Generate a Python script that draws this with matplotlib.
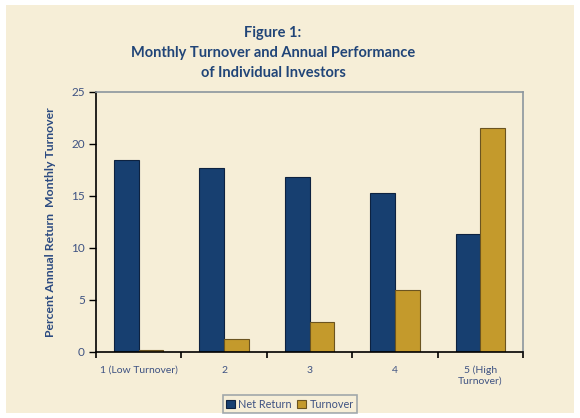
import matplotlib.pyplot as plt
import numpy as np
from matplotlib.patches import Rectangle

categories = ['1 (Low Turnover)', '2', '3', '4', '5 (High\nTurnover)']
net_return = [18.5, 17.7, 16.8, 15.3, 11.3]
turnover = [0.2, 1.25, 2.9, 6.0, 21.5]

navy = '#173f70'
gold = '#c49a2c'
beige = '#f6eed7'
text_blue = '#2b4a80'
tick_blue = '#3e5282'

plt.rcParams['font.family'] = ['Lato', 'DejaVu Sans']

fig = plt.figure(figsize=(5.8, 4.18), dpi=100, facecolor='white')
fig.patches.append(Rectangle((6 / 580, 5 / 418), 568 / 580, 408 / 418,
                             transform=fig.transFigure, facecolor=beige,
                             edgecolor='none', zorder=-10))

ax = fig.add_axes([96 / 580, 66 / 418, 427 / 580, 260 / 418])
ax.set_facecolor(beige)

x = np.arange(len(categories))
w = 0.29
ax.bar(x - w / 2, net_return, w, color=navy, edgecolor='#0d2240', linewidth=0.8, label='Net Return')
ax.bar(x + w / 2, turnover, w, color=gold, edgecolor='#6b5420', linewidth=0.8, label='Turnover')

ax.set_xlim(-0.5, len(categories) - 0.5)
ax.set_ylim(0, 25)
ax.set_yticks([0, 5, 10, 15, 20, 25])
ax.set_xticks(np.arange(len(categories) + 1) - 0.5)
ax.set_xticklabels([])
ax.set_xticks(x, minor=True)
ax.set_xticklabels(categories, minor=True)
ax.tick_params(axis='x', which='minor', length=0, pad=10, labelsize=7.5, labelcolor=tick_blue)
ax.tick_params(axis='x', which='major', length=4, width=1.2, color='black')
ax.tick_params(axis='y', length=5, width=1, color='black', labelsize=8.5, labelcolor=tick_blue, pad=3)

for s in ['left', 'bottom']:
    ax.spines[s].set_color('black')
    ax.spines[s].set_linewidth(1.2)
for s in ['top', 'right']:
    ax.spines[s].set_color('#8c969e')
    ax.spines[s].set_linewidth(1.2)

ax.set_ylabel('Percent Annual Return  Monthly Turnover', color=text_blue,
              fontsize=8.8, fontweight='bold', labelpad=11)

fig.text(273 / 580, 1 - 26 / 418,
         'Figure 1:\nMonthly Turnover and Annual Performance\nof Individual Investors',
         ha='center', va='top', fontsize=10.5, fontweight='bold', color='#214578',
         linespacing=1.55)

leg = ax.legend(loc='center', bbox_to_anchor=(290 / 580, 1 - 404 / 418),
                bbox_transform=fig.transFigure, ncol=2, frameon=True, fancybox=False,
                fontsize=7.8, handlelength=0.8, handleheight=0.8, handletextpad=0.3,
                columnspacing=0.5, borderpad=0.3, borderaxespad=0)
leg.get_frame().set_facecolor(beige)
leg.get_frame().set_edgecolor('#8c969e')
leg.get_frame().set_linewidth(1.2)
for t in leg.get_texts():
    t.set_color(tick_blue)

fig.savefig('out.png', dpi=100, facecolor='white')
